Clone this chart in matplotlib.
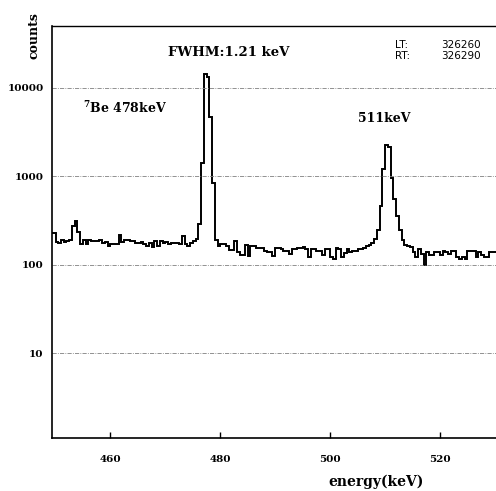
import numpy as np
import matplotlib
matplotlib.use('Agg')
import matplotlib.pyplot as plt
from matplotlib.ticker import NullLocator

# gamma spectrum, 0.5 keV channels starting at 449.0 keV
e_start = 449.0
bin_width = 0.5
counts = [
    230, 230, 182, 178, 193, 182, 185, 190, 275, 310,
    235, 172, 193, 173, 193, 185, 185, 185, 190, 175,
    183, 162, 173, 173, 173, 220, 182, 193, 190, 186,
    186, 178, 178, 183, 170, 162, 175, 160, 185, 162,
    185, 175, 182, 170, 175, 175, 175, 170, 212, 170,
    165, 178, 188, 198, 290, 1400, 14300, 13100, 4700, 840,
    190, 162, 173, 173, 165, 148, 148, 187, 138, 130,
    130, 168, 125, 162, 162, 155, 155, 155, 143, 138,
    138, 126, 155, 155, 150, 143, 143, 132, 150, 150,
    155, 155, 160, 150, 124, 150, 150, 143, 143, 130,
    150, 150, 124, 115, 155, 150, 124, 135, 150, 138,
    143, 143, 150, 150, 155, 162, 168, 175, 195, 250,
    460, 1200, 2250, 2150, 950, 560, 360, 250, 190, 168,
    162, 158, 140, 124, 150, 132, 100, 138, 130, 130,
    138, 138, 130, 143, 138, 132, 143, 143, 124, 115,
    124, 115, 143, 143, 143, 124, 138, 130, 124, 122,
    138, 138, 138,
]
edges = e_start + bin_width * np.arange(len(counts) + 1)

x_ticks = [460, 480, 500, 520]
y_ticks = [10, 100, 1000, 10000]
y_labels = ['10', '100', '1000', '10000']

plt.rcParams['font.family'] = 'DejaVu Serif'
plt.rcParams['font.weight'] = 'bold'
plt.rcParams['mathtext.fontset'] = 'dejavuserif'

fig = plt.figure(figsize=(4.96, 4.91), dpi=100)
ax = fig.add_axes([52 / 496, 1 - 438 / 491, 1 - 52 / 496, (438 - 26) / 491])

ax.stairs(counts, edges, baseline=None, color='black', linewidth=1.4)

ax.set_yscale('log')
ax.set_xlim(449.36, 530.2)
ax.set_ylim(1.11, 49700)

ax.set_yticks(y_ticks)
ax.set_yticklabels(y_labels)
ax.yaxis.set_minor_locator(NullLocator())
ax.set_xticks(x_ticks)
ax.set_xticklabels([str(t) for t in x_ticks])

ax.tick_params(axis='x', direction='in', length=4.5, width=1.0, labelsize=7.5, pad=12)
ax.tick_params(axis='y', length=0, labelsize=7.5, pad=6)
for lab in ax.get_xticklabels() + ax.get_yticklabels():
    lab.set_fontweight('bold')

ax.grid(axis='y', color='0.5', linestyle=(0, (5, 1.5, 1, 1.5)), linewidth=0.6)
ax.grid(axis='x', visible=False)

ax.spines['right'].set_visible(False)
ax.spines['left'].set_linewidth(1.2)
ax.spines['bottom'].set_linewidth(1.2)
ax.spines['top'].set_linewidth(1.0)

# annotations
fig.text(229 / 496, 1 - 52 / 491, 'FWHM:1.21 keV', fontsize=9.5,
         fontweight='bold', ha='center', va='center')
fig.text(83 / 496, 1 - 108 / 491, r'$^{\mathbf{7}}$Be 478keV', fontsize=9,
         fontweight='bold', ha='left', va='center')
fig.text(384 / 496, 1 - 118 / 491, '511keV', fontsize=9,
         fontweight='bold', ha='center', va='center')

fig.text(395 / 496, 1 - 44.5 / 491, 'LT:', family='DejaVu Sans',
         fontweight='normal', fontsize=7.5, ha='left', va='center')
fig.text(441 / 496, 1 - 44.5 / 491, '326260', family='DejaVu Sans',
         fontweight='normal', fontsize=7.5, ha='left', va='center')
fig.text(395 / 496, 1 - 56 / 491, 'RT:', family='DejaVu Sans',
         fontweight='normal', fontsize=7.5, ha='left', va='center')
fig.text(441 / 496, 1 - 56 / 491, '326290', family='DejaVu Sans',
         fontweight='normal', fontsize=7.5, ha='left', va='center')

fig.text(34 / 496, 1 - 36 / 491, 'counts', rotation=90, fontsize=9,
         fontweight='bold', ha='center', va='center')
fig.text(376 / 496, 1 - 482 / 491, 'energy(keV)', fontsize=10,
         fontweight='bold', ha='center', va='center')

fig.savefig('out.png', dpi=100)
